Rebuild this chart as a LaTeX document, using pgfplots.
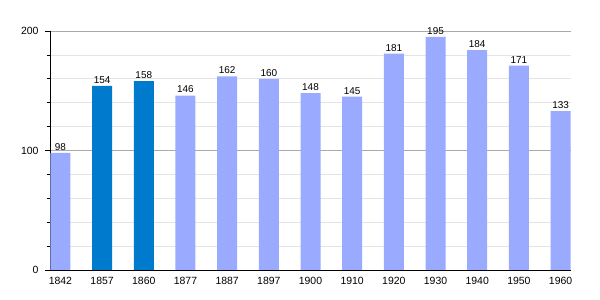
\documentclass[border=0pt]{standalone}
\usepackage{pgfplots}
\pgfplotsset{compat=1.18}
\usepackage{fontspec}
\setmainfont{Liberation Sans}
\definecolor{lightbar}{RGB}{153,170,255}
\definecolor{darkbar}{RGB}{0,122,204}
\definecolor{minorgrid}{RGB}{228,228,228}
\definecolor{majorgrid}{RGB}{170,170,170}
\begin{document}
\begin{tikzpicture}
\path[use as bounding box] (-50bp,-30bp) rectangle (550bp,270bp);
\begin{axis}[
  at={(0,0)}, anchor=south west,
  scale only axis, width=521bp, height=239bp,
  ybar, bar width=20bp,
  xmin=-0.25, xmax=12.25, ymin=0, ymax=200,
  axis x line*=bottom, axis y line*=left,
  axis line style={black, line width=0.8pt, -},
  xtick={0,...,12},
  xticklabels={1842,1857,1860,1877,1887,1897,1900,1910,1920,1930,1940,1950,1960},
  major x tick style={draw=none},
  ytick={0,100,200}, minor ytick={20,40,60,80,120,140,160,180},
  tick align=outside,
  major tick length=5bp, minor tick length=3bp,
  ymajorgrids, yminorgrids,
  major grid style={majorgrid, line width=0.7pt},
  minor grid style={minorgrid, line width=0.6pt},
  tick style={black, line width=0.6pt},
  ticklabel style={font=\fontsize{10.5}{12}\selectfont},
  /pgf/number format/assume math mode=true,
  xticklabel style={yshift=1bp},
  yticklabel style={xshift=-3bp},
  nodes near coords,
  every node near coord/.append style={font=\fontsize{10}{11}\selectfont, black, yshift=-1bp},
]
\addplot[fill=lightbar, draw=none, bar shift=0pt] coordinates {
(0,98) (3,146) (4,162) (5,160) (6,148) (7,145) (8,181) (9,195) (10,184) (11,171) (12,133)};
\addplot[fill=darkbar, draw=none, bar shift=0pt] coordinates {
(1,154) (2,158)};
\end{axis}
\end{tikzpicture}
\end{document}
